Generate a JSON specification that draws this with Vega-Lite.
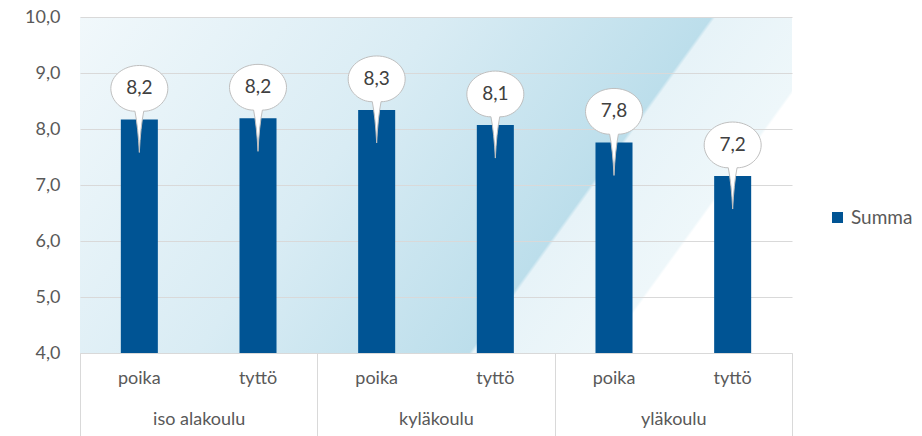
{
  "$schema": "https://vega.github.io/schema/vega-lite/v6.json",
  "autosize": {"type": "none"},
  "width": 712,
  "height": 336,
  "padding": {"left": 80, "top": 17, "right": 130, "bottom": 83},
  "background": "white",
  "view": {
    "stroke": null,
    "fill": {
      "gradient": "linear",
      "x1": 0, "y1": 0, "x2": 1, "y2": 0.341,
      "stops": [
        {"offset": 0, "color": "#f1f8fb"},
        {"offset": 0.45, "color": "#d9ecf4"},
        {"offset": 0.795, "color": "#bcdeeb"},
        {"offset": 0.8, "color": "#e7f3f8"},
        {"offset": 0.962, "color": "#eef7fa"},
        {"offset": 0.966, "color": "#ffffff"},
        {"offset": 1, "color": "#ffffff"}
      ]
    }
  },
  "config": {
    "font": "Lato",
    "locale": {"number": {"decimal": ",", "thousands": " ", "grouping": [3], "currency": ["", " €"]}},
    "axis": {"labelColor": "#595959", "labelFont": "Lato", "labelFontSize": 18, "title": null}
  },
  "data": {
    "values": [
      {"group": "iso alakoulu", "sex": "poika", "key": "iso alakoulu|poika", "value": 8.17},
      {"group": "iso alakoulu", "sex": "tyttö", "key": "iso alakoulu|tyttö", "value": 8.19},
      {"group": "kyläkoulu", "sex": "poika", "key": "kyläkoulu|poika", "value": 8.34},
      {"group": "kyläkoulu", "sex": "tyttö", "key": "kyläkoulu|tyttö", "value": 8.07},
      {"group": "yläkoulu", "sex": "poika", "key": "yläkoulu|poika", "value": 7.76},
      {"group": "yläkoulu", "sex": "tyttö", "key": "yläkoulu|tyttö", "value": 7.16}
    ]
  },
  "layer": [
    {
      "encoding": {
        "x": {
          "field": "key", "type": "nominal", "sort": null,
          "scale": {"paddingInner": 0, "paddingOuter": 0},
          "axis": {"labelExpr": "split(datum.value, '|')[1]", "labelAngle": 0, "ticks": false, "domain": false, "grid": false, "labelPadding": 16}
        },
        "y": {
          "field": "value", "type": "quantitative",
          "scale": {"domain": [4, 10], "nice": false, "zero": false},
          "axis": {"values": [4, 5, 6, 7, 8, 9, 10], "format": ".1f", "ticks": false, "domain": false, "grid": true, "gridColor": "#d9d9d9", "gridWidth": 1, "labelPadding": 20}
        }
      },
      "layer": [
        {
          "mark": {"type": "bar", "width": {"band": 0.312}},
          "encoding": {
            "y2": {"datum": 4},
            "color": {
              "datum": "Summa",
              "scale": {"range": ["#005494"]},
              "legend": {
                "title": null, "orient": "none", "legendX": 748, "legendY": 191,
                "symbolType": "square", "symbolSize": 121, "symbolStrokeWidth": 0,
                "labelFontSize": 19, "labelColor": "#595959", "labelFont": "Lato", "padding": 0
              }
            }
          }
        },
        {
          "mark": {
            "type": "point",
            "shape": "M0,0.825 Q-0.03,0.2 -0.11,-0.207 C-0.42,-0.2 -0.7125,-0.4574 -0.7125,-0.775 C-0.7125,-1.0926 -0.3935,-1.35 0,-1.35 C0.3935,-1.35 0.7125,-1.0926 0.7125,-0.775 C0.7125,-0.4574 0.42,-0.2 0.11,-0.207 Q0.03,0.2 0,0.825 Z",
            "size": 6400,
            "filled": true,
            "fill": "#ffffff",
            "stroke": "#bfbfbf",
            "strokeWidth": 1,
            "opacity": 1
          }
        },
        {
          "mark": {"type": "text", "dy": -31, "baseline": "middle", "align": "center", "fontSize": 19, "color": "#404040", "font": "Lato"},
          "encoding": {"text": {"field": "value", "type": "quantitative", "format": ".1f"}}
        }
      ]
    },
    {
      "mark": {"type": "bar", "opacity": 0},
      "encoding": {
        "x": {
          "field": "group", "type": "nominal", "sort": null,
          "scale": {"paddingInner": 0, "paddingOuter": 0},
          "axis": {
            "orient": "bottom", "labelAngle": 0, "domain": true, "domainColor": "#d9d9d9",
            "ticks": true, "tickBand": "extent", "tickSize": 83, "tickColor": "#d9d9d9",
            "labelPadding": -26, "grid": false
          }
        }
      }
    }
  ],
  "resolve": {"scale": {"x": "independent"}}
}
